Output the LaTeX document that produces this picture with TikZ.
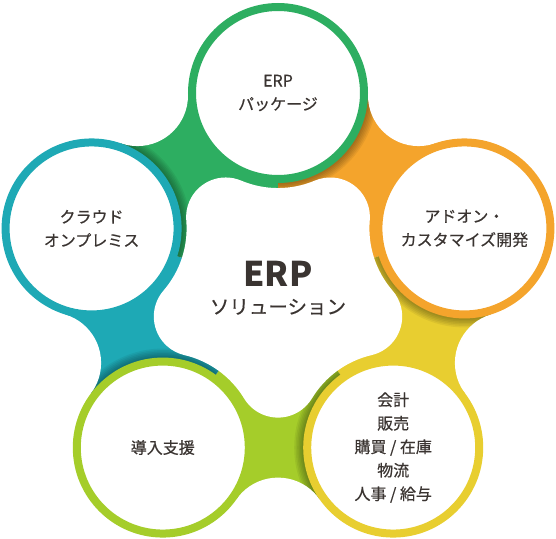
\documentclass[tikz,border=0pt]{standalone}
\usepackage{fontspec}
\setmainfont{Noto Sans CJK JP}
\newfontfamily\lblfont{Noto Sans CJK JP}[FakeBold=0.5]
\usetikzlibrary{calc}

\definecolor{ergreen}{HTML}{2DAE61}
\definecolor{erorange}{HTML}{F4A42C}
\definecolor{eryellow}{HTML}{E8CE30}
\definecolor{erlime}{HTML}{A5CD2A}
\definecolor{erteal}{HTML}{1EA9B5}
\definecolor{ink}{HTML}{3A3431}

\tikzset{
  petal/.style={circle, draw=#1, line width=8pt, fill=white, minimum size=172pt,
    inner sep=0pt, align=center, text=ink, font=\lblfont\fontsize{16}{23.5}\selectfont},
  hubtitle/.style={text=ink, font=\fontsize{34}{40}\selectfont\bfseries},
  hubsub/.style={text=ink, font=\lblfont\fontsize{19.5}{24}\selectfont},
}

\begin{document}
\begin{tikzpicture}[x=1pt, y=1pt]
	\useasboundingbox (-278,-249) rectangle (278,289);
	% coloured webs between neighbouring circles
	\foreach \a/\c in {90/ergreen, 18/erorange, -54/eryellow, -126/erlime, 162/erteal}
		\fill[\c] (0,0) -- (\a:196) -- (\a+36:239.2) -- (\a+72:196) -- cycle;
	% shadow of each circle on the web beside it
	\foreach \a in {90, 18, -54, -126, 162} {
		\begin{scope}
			\clip (0,0) -- (\a-72:196) -- (\a-36:239.2) -- (\a:196) -- cycle;
			\foreach \k in {1,...,6}
				\fill[black, opacity=.06] (\a:196) circle ({90+1.5*\k});
		\end{scope}
	}
	% outer concave cuts
	\foreach \g in {54, -18, -90, -162, 126}
		\fill[white] (\g:239.2) circle (50.6);
	% white centre
	\fill[white] ($(-90:89)+(-148.86:39.6)$)
		foreach \g in {-90, -18, 54, 126, 198} {
			arc[start angle=\g-58.86, end angle=\g+58.86, radius=39.6]
			arc[start angle=\g+238.86, end angle=\g+193.14, radius=95]
		} -- cycle;
	\node[hubtitle] (hub) at (0,15) {ERP};
	\node[hubsub] (hubsub) at (0,-18) {ソリューション};
	% the five circles
	\node[petal=ergreen] (pkg) at (90:196) {ERP\\パッケージ};
	\node[petal=erorange] (addon) at (18:196) {アドオン・\\カスタマイズ開発};
	\node[petal=eryellow] (modules) at (-54:196) {会計\\販売\\購買 / 在庫\\物流\\人事 / 給与};
	\node[petal=erlime] (intro) at (-126:196) {導入支援};
	\node[petal=erteal] (cloud) at (162:196) {クラウド\\オンプレミス};
\end{tikzpicture}
\end{document}
